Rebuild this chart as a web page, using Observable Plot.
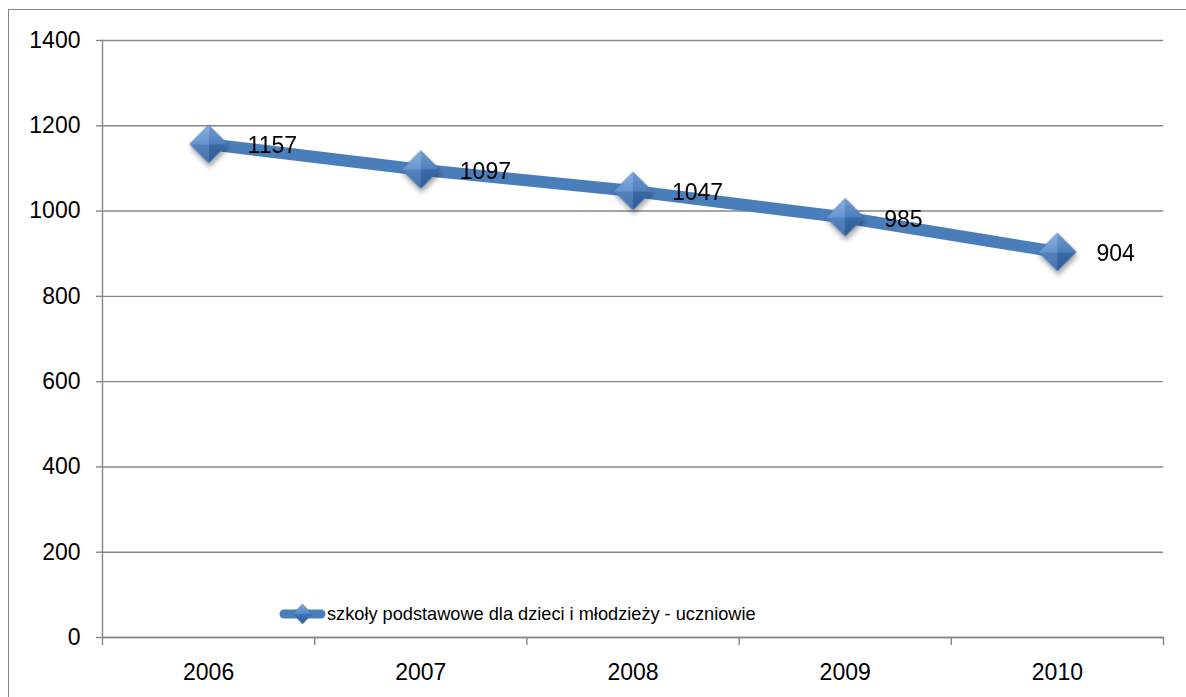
<!DOCTYPE html>
<html>
<head>
<meta charset="utf-8">
<script src="https://cdn.jsdelivr.net/npm/d3@7"></script>
<script src="https://cdn.jsdelivr.net/npm/@observablehq/plot@0.6"></script>
<style>
  html, body { margin: 0; padding: 0; background: #fff; overflow: hidden; }
  #wrap { position: relative; width: 1186px; height: 697px; overflow: hidden; }
  #border { position: absolute; left: 8px; top: 9px; width: 1300px; height: 800px; border: 1.5px solid #868686; box-sizing: border-box; }
  #chart { position: absolute; left: 0; top: 0; }
  #legend { position: absolute; left: 279px; top: 601px; display: flex; align-items: center;
            font-family: "Liberation Sans", Arial, sans-serif; font-size: 18.2px; color: #000; white-space: nowrap; }
  #legend svg { display: block; margin-right: 1px; }
</style>
</head>
<body>
<div id="wrap">
  <div id="border"></div>
  <div id="chart"></div>
  <div id="legend"></div>
</div>
<script>
const years = [2006, 2007, 2008, 2009, 2010];
const values = [1157, 1097, 1047, 985, 904];
const yTicks = [0, 200, 400, 600, 800, 1000, 1200, 1400];
const seriesName = "szkoły podstawowe dla dzieci i młodzieży - uczniowie";

const data = years.map((year, i) => ({year, value: values[i]}));
const boundaries = years.map(y => y - 0.5).concat([years[years.length - 1] + 0.5]);

const lineColor = "#4A7EBB";
const gridColor = "#868686";

const chart = Plot.plot({
  width: 1186,
  height: 697,
  marginLeft: 102,
  marginRight: 23,
  marginTop: 40,
  marginBottom: 60,
  style: {fontFamily: "Liberation Sans, Arial, sans-serif", fontSize: "23px", color: "#000", background: "transparent", overflow: "visible"},
  x: {domain: [boundaries[0], boundaries[boundaries.length - 1]]},
  y: {domain: [0, 1400]},
  marks: [
    Plot.gridY(yTicks, {stroke: gridColor, strokeOpacity: 1, strokeWidth: 1.4}),
    Plot.frame({anchor: "left", stroke: gridColor, strokeWidth: 1.4}),
    Plot.frame({anchor: "bottom", stroke: gridColor, strokeWidth: 1.4}),
    Plot.axisY(yTicks, {tickSize: 6, tickPadding: 16, stroke: gridColor, strokeWidth: 1.4, fill: "#000", tickFormat: d => String(d), label: null}),
    Plot.axisX(boundaries, {tickSize: 8, stroke: gridColor, strokeWidth: 1.4, tickFormat: () => "", label: null}),
    Plot.axisX(years, {tickSize: 0, tickPadding: 26, fill: "#000", tickFormat: d => String(d), label: null}),
    Plot.line(data, {x: "year", y: "value", stroke: lineColor, strokeWidth: 12, strokeLinejoin: "round"}),
    Plot.dot(data, {x: "year", y: "value", symbol: "diamond2", r: 17, fill: "url(#dgrad)", stroke: "#3f6fae", strokeWidth: 0.8}),
    Plot.dot(data, {x: "year", y: "value", symbol: "diamond2", r: 17, fill: "url(#dgrad2)", stroke: "none"}),
    Plot.text(data, {x: "year", y: "value", text: d => String(d.value), dx: 39, dy: 2, textAnchor: "start", fill: "#000", fontSize: 23})
  ]
});

// gradient + shadow defs
const svgEl = chart.tagName.toLowerCase() === "svg" ? chart : chart.querySelector("svg");
const svg = d3.select(svgEl);
const defs = svg.insert("defs", ":first-child");
const g1 = defs.append("linearGradient").attr("id", "dgrad").attr("x1", 0).attr("y1", 0).attr("x2", 0).attr("y2", 1);
g1.append("stop").attr("offset", "0%").attr("stop-color", "#7aa6df");
g1.append("stop").attr("offset", "50%").attr("stop-color", "#5287c8");
g1.append("stop").attr("offset", "50.5%").attr("stop-color", "#3f72b4");
g1.append("stop").attr("offset", "100%").attr("stop-color", "#2f5f9e");
const g2 = defs.append("linearGradient").attr("id", "dgrad2").attr("x1", 0).attr("y1", 0).attr("x2", 1).attr("y2", 0);
g2.append("stop").attr("offset", "0%").attr("stop-color", "#ffffff").attr("stop-opacity", 0.12);
g2.append("stop").attr("offset", "50%").attr("stop-color", "#ffffff").attr("stop-opacity", 0.12);
g2.append("stop").attr("offset", "50.5%").attr("stop-color", "#000000").attr("stop-opacity", 0.06);
g2.append("stop").attr("offset", "100%").attr("stop-color", "#000000").attr("stop-opacity", 0.06);
const f = defs.append("filter").attr("id", "dshadow").attr("x", "-50%").attr("y", "-50%").attr("width", "200%").attr("height", "200%");
f.append("feDropShadow").attr("dx", 1).attr("dy", 4).attr("stdDeviation", 2.5).attr("flood-color", "#000").attr("flood-opacity", 0.35);

const dotGroups = svgEl.querySelectorAll('g[aria-label="dot"]');
if (dotGroups.length) dotGroups[0].setAttribute("filter", "url(#dshadow)");

document.getElementById("chart").append(chart);

// legend
const legend = document.getElementById("legend");
legend.innerHTML = `<svg width="47" height="26" viewBox="0 0 47 26">
  <defs>
    <linearGradient id="lgrad" x1="0" y1="0" x2="0" y2="1">
      <stop offset="0%" stop-color="#7aa6df"/><stop offset="50%" stop-color="#5287c8"/>
      <stop offset="50.5%" stop-color="#3f72b4"/><stop offset="100%" stop-color="#2f5f9e"/>
    </linearGradient>
  </defs>
  <line x1="5" y1="13" x2="42" y2="13" stroke="${lineColor}" stroke-width="9" stroke-linecap="round"/>
  <path d="M23.5,3 L33,13 L23.5,23 L14,13 Z" fill="url(#lgrad)" stroke="#3f6fae" stroke-width="0.6"/>
</svg><span>${seriesName}</span>`;
</script>
</body>
</html>
